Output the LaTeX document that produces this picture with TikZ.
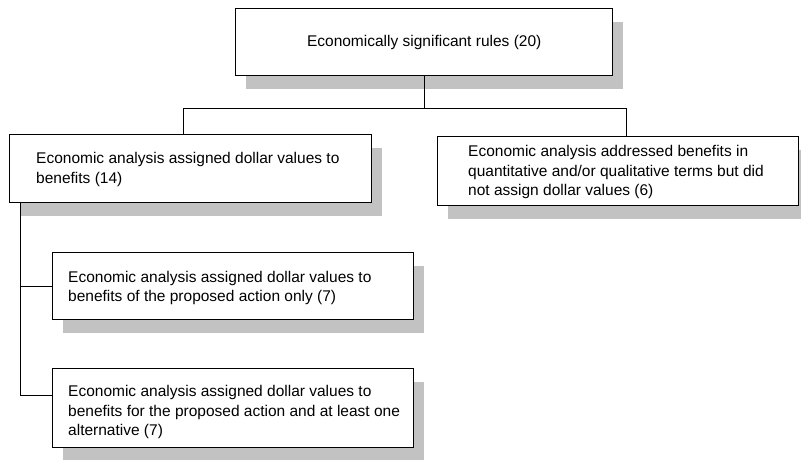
\documentclass[tikz,border=0pt]{standalone}
\usepackage{fontspec}
\setmainfont{Liberation Sans}
\usetikzlibrary{positioning,shadows}

\begin{document}
\begin{tikzpicture}[x=1pt,y=-1pt,
  rulebox/.style={draw,line width=1.4pt,fill=white,anchor=north west,inner sep=0pt,
    drop shadow={shadow xshift=10pt,shadow yshift=-13pt,fill=black!24,opacity=1}},
  boxtext/.style={anchor=west,inner sep=0pt,align=left,font=\fontsize{15.5}{19.5}\selectfont},
  link/.style={line width=1pt}]
\useasboundingbox (0,0) rectangle (801,459);
%%%% boxes
\node[rulebox,minimum width=377pt,minimum height=67pt] (top) at (235,8) {};
\node[boxtext,anchor=center] (toptext) at (top.center) {Economically significant rules (20)};
\node[rulebox,minimum width=362pt,minimum height=68pt] (dollar) at (9,134) {};
\node[boxtext,right=27pt of dollar.west,yshift=-1pt] (dollartext)
  {Economic analysis assigned dollar values to\\benefits (14)};
\node[rulebox,minimum width=361pt,minimum height=69pt] (nodollar) at (437,136) {};
\node[boxtext,right=31pt of nodollar.west,yshift=-1pt] (nodollartext)
  {Economic analysis addressed benefits in\\quantitative and/or qualitative terms but did\\not assign dollar values (6)};
\node[rulebox,minimum width=361pt,minimum height=67pt] (only) at (52,252) {};
\node[boxtext,right=16pt of only.west,yshift=-2pt] (onlytext)
  {Economic analysis assigned dollar values to\\benefits of the proposed action only (7)};
\node[rulebox,minimum width=361pt,minimum height=79pt] (alt) at (52,368) {};
\node[boxtext,right=16pt of alt.west,yshift=-4pt] (alttext)
  {Economic analysis assigned dollar values to\\benefits for the proposed action and at least one\\alternative (7)};
%%%% connectors
\coordinate (busL) at (183,108);
\coordinate (busR) at (626,108);
\draw[link] (top.south) -- (top.south |- busL);
\draw[link] (busL) -- (busR);
\draw[link] (busL) -- (busL |- dollar.north);
\draw[link] (busR) -- (busR |- nodollar.north);
%
\coordinate (spine) at (20,202);
\coordinate (altjoin) at (20,395);
\draw[link] (spine) -- (altjoin) -- (altjoin -| alt.west);
\draw[link] (spine |- only.west) -- (only.west);
\end{tikzpicture}
\end{document}
